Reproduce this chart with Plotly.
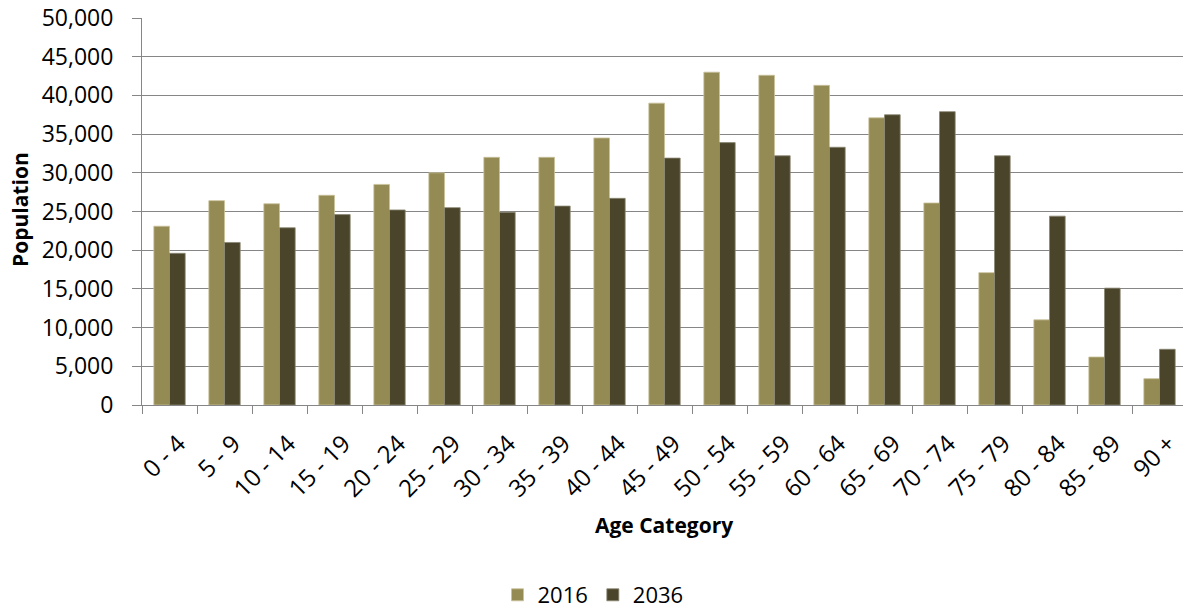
import plotly.graph_objects as go

# Population by five-year age group
age_groups = ["0 - 4", "5 - 9", "10 - 14", "15 - 19", "20 - 24", "25 - 29", "30 - 34",
              "35 - 39", "40 - 44", "45 - 49", "50 - 54", "55 - 59", "60 - 64", "65 - 69",
              "70 - 74", "75 - 79", "80 - 84", "85 - 89", "90 +"]
pop_2016 = [23100, 26400, 26000, 27100, 28500, 30000, 32000,
            32000, 34500, 39000, 43000, 42600, 41300, 37100,
            26100, 17100, 11000, 6200, 3400]
pop_2036 = [19600, 21000, 22900, 24600, 25200, 25500, 24900,
            25700, 26700, 31900, 33900, 32200, 33300, 37500,
            37900, 32200, 24400, 15100, 7200]
y_ticks = list(range(0, 50001, 5000))

FONT = "Open Sans"
W, H = 1183, 608
ML, MT, MB = 142, 18, 203
PH = H - MT - MB          # plot height in px
Y0 = MT + PH              # pixel row of the x axis

fig = go.Figure()
fig.add_trace(go.Bar(name="2016", x=age_groups, y=pop_2016,
                     marker=dict(color="#948A54", line=dict(color="#C9C29A", width=0.8))))
fig.add_trace(go.Bar(name="2036", x=age_groups, y=pop_2036,
                     marker=dict(color="#4A452A", line=dict(color="#8A8672", width=0.8))))

fig.update_layout(
    width=W, height=H,
    margin=dict(l=ML, r=0, t=MT, b=MB, pad=0, autoexpand=False),
    paper_bgcolor="white", plot_bgcolor="white",
    barmode="group", bargap=0.43, bargroupgap=0,
    font=dict(family=FONT, size=23, color="#000000"),
    showlegend=True,
    legend=dict(orientation="h", x=(593 - ML) / (W - ML), xanchor="center",
                y=(Y0 - 595) / PH, yanchor="middle",
                font=dict(family=FONT, size=22, color="#000000"),
                bgcolor="rgba(0,0,0,0)", borderwidth=0, tracegroupgap=0),
)

fig.update_xaxes(
    type="category", range=[-0.5, -0.5 + (W - ML) / 55.0], automargin=False,
    tickson="boundaries", ticks="outside", ticklen=8, tickcolor="#868686", tickwidth=1,
    tickangle=-45, showline=True, linecolor="#868686", linewidth=1,
    showgrid=False, tickfont=dict(family=FONT, size=24, color="#000000"),
    ticklabelstandoff=14, ticklabelshift=9,
)
fig.update_yaxes(
    range=[0, 50000], tickvals=y_ticks, tickformat=",d", automargin=False,
    ticks="outside", ticklen=9, tickcolor="#868686", tickwidth=1,
    showline=True, linecolor="#868686", linewidth=1,
    showgrid=True, gridcolor="#868686", gridwidth=1, zeroline=False,
    tickfont=dict(family=FONT, size=23, color="#000000"),
    ticklabelstandoff=14,
)

fig.add_annotation(text="<b>Population</b>", xref="paper", yref="paper",
                   x=-(ML - 20) / (W - ML), y=(Y0 - 210) / PH,
                   xanchor="center", yanchor="middle", textangle=-90, showarrow=False,
                   font=dict(family=FONT, size=21, color="#000000"))
fig.add_annotation(text="<b>Age Category</b>", xref="paper", yref="paper",
                   x=(664 - ML) / (W - ML), y=(Y0 - 525) / PH,
                   xanchor="center", yanchor="middle", showarrow=False,
                   font=dict(family=FONT, size=21, color="#000000"))

fig.write_html("out.html")
